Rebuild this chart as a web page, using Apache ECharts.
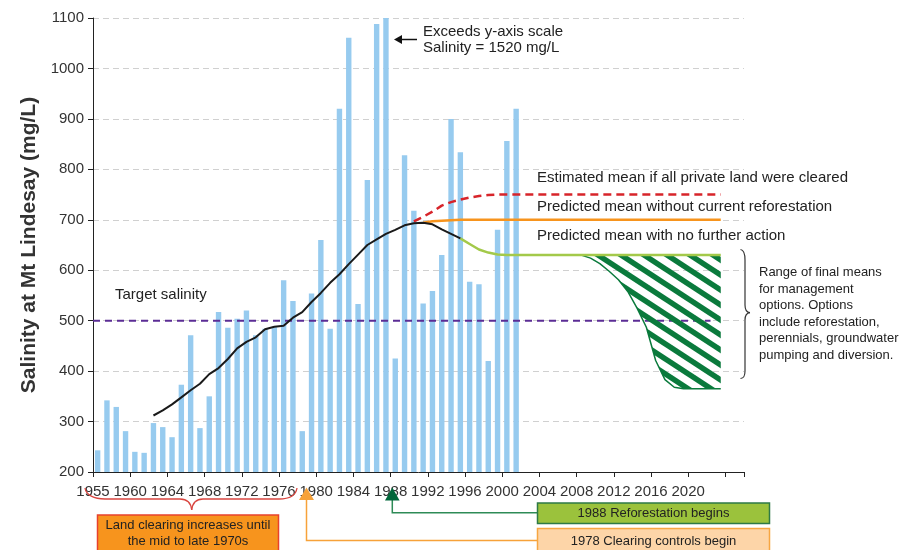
<!DOCTYPE html>
<html><head><meta charset="utf-8">
<script src="https://cdn.jsdelivr.net/npm/echarts@6/dist/echarts.min.js"></script>
<style>html,body{margin:0;padding:0;background:#fff}#c{width:924px;height:550px}</style>
</head><body><div id="c"></div>
<script>
// ---- data ----
const firstYear = 1955;
const categoryCount = 70; // 1955 .. 2024
const years = [];
for (let i = 0; i < categoryCount; i++) years.push(String(firstYear + i));

const tickLabels = ['1955','1960','1964','1968','1972','1976','1980','1984','1988','1992','1996','2000','2004','2008','2012','2016','2020'];

// annual salinity (mg/L), 1955 .. 2000
const salinity = [243,342,329,281,240,238,297,289,269,373,471,287,350,517,486,504,520,471,484,487,580,539,281,554,660,484,920,1061,533,779,1088,1520,425,828,718,534,559,630,900,834,577,572,420,680,856,920];

// observed/predicted mean (black), starting 1961
const meanStart = '1961';
const meanObserved = [312,322,334,348,362,375,394,406,424,445,458,467,483,488,490,506,517,537,555,575,592,612,631,650,661,672,680,689,693,694,691,681,672,663];

// estimated mean if all private land were cleared (red dashed), from 1989
const clearedStart = '1989';
const meanCleared = [697,706,716,728,735,740,744,747,749,750,750,750,750,750,750,750,750,750,750,750,750,750,750,750,750,750,750,750,750,750,750,750,750,750];

// predicted mean without current reforestation (orange), from 1990
const noReforStart = '1990';
const meanNoRefor = [694,697,698,699,700,700,700,700,700,700,700,700,700,700,700,700,700,700,700,700,700,700,700,700,700,700,700,700,700,700,700,700,700];

// predicted mean with no further action (green), from 1994
const noActionStart = '1994';
const meanNoAction = [663,652,641,635,631,630,630,630,630,630,630,630,630,630,630,630,630,630,630,630,630,630,630,630,630,630,630,630,630];

// range of final means for management options, from 2007
const rangeStart = '2007';
const rangeLower = [630,624,613,598,581,558,525,487,421,383,368,365,365,365,365,365];
const rangeUpper = [630,630,630,630,630,630,630,630,630,630,630,630,630,630,630,630];

const targetSalinity = 500;
const targetSpan = [0, 66.4];

// ---- helpers ----
function place(startYear, vals) {
  const out = new Array(categoryCount).fill(null);
  const s = years.indexOf(startYear);
  vals.forEach((v, i) => { out[s + i] = v; });
  return out;
}
function hatch() {
  const W = 23, H = 15;
  const c = document.createElement('canvas'); c.width = W; c.height = H;
  const g = c.getContext('2d'); g.strokeStyle = '#0A7A3C'; g.lineWidth = 5.5;
  for (let k = -2; k <= 2; k++) { g.beginPath(); g.moveTo(-W, -H + H * k); g.lineTo(2 * W, 2 * H + H * k); g.stroke(); }
  return c;
}

const FONT = '"Liberation Sans", Arial, sans-serif';
const chart = echarts.init(document.getElementById('c'), null, {renderer: 'canvas'});

const lowerFull = place(rangeStart, rangeLower);
const diffFull = place(rangeStart, rangeUpper.map((u, i) => u - rangeLower[i]));

function txt(x, y, text, size, opts) {
  return Object.assign({type: 'text', x: x, y: y, z: 100,
    style: Object.assign({text: text, font: size + 'px ' + FONT, fill: '#222', align: 'left', verticalAlign: 'middle'}, opts || {})});
}
function bz(x1, y1, cx1, cy1, cx2, cy2, x2, y2, color, w) {
  return {type: 'bezierCurve', z: 100, shape: {x1: x1, y1: y1, cpx1: cx1, cpy1: cy1, cpx2: cx2, cpy2: cy2, x2: x2, y2: y2},
    style: {stroke: color, lineWidth: w, fill: null}};
}
function ln(x1, y1, x2, y2, color, w) {
  return {type: 'line', z: 100, shape: {x1: x1, y1: y1, x2: x2, y2: y2}, style: {stroke: color, lineWidth: w}};
}

const option = {
  animation: false,
  textStyle: {fontFamily: FONT},
  grid: {left: 93, right: 180, top: 18, bottom: 78, containLabel: false},
  xAxis: [
    {type: 'category', data: years, boundaryGap: true,
      axisLine: {show: true, lineStyle: {color: '#222', width: 1}},
      axisTick: {show: false}, axisLabel: {show: false}, splitLine: {show: false}},
    {type: 'value', min: 0, max: categoryCount, interval: 4, position: 'bottom',
      axisLine: {show: false},
      axisTick: {show: true, length: 5, lineStyle: {color: '#222'}},
      axisLabel: {show: true, margin: 12, fontSize: 15, color: '#333', fontFamily: FONT,
        formatter: v => (v % 4 === 0 && tickLabels[v / 4]) ? tickLabels[v / 4] : ''},
      splitLine: {show: false}}
  ],
  yAxis: {
    type: 'value', min: 200, max: 1100, interval: 100,
    name: 'Salinity at Mt Lindesay (mg/L)', nameLocation: 'middle', nameGap: 43,
    nameTextStyle: {fontSize: 21, fontWeight: 'bold', color: '#333', fontFamily: FONT},
    axisLine: {show: true, lineStyle: {color: '#222', width: 1}},
    axisTick: {show: true, length: 5, lineStyle: {color: '#222'}},
    axisLabel: {fontSize: 15, color: '#333', margin: 9, fontFamily: FONT, formatter: v => String(v)},
    splitLine: {show: true, lineStyle: {color: '#d0d0d0', type: [6, 4], width: 1}}
  },
  series: [
    {type: 'bar', name: 'Salinity', data: salinity, barWidth: '58%', itemStyle: {color: '#97CBEF'}, clip: true, z: 1},
    {type: 'line', name: 'Target', xAxisIndex: 1, data: [[targetSpan[0], targetSalinity], [targetSpan[1], targetSalinity]],
      symbol: 'none', lineStyle: {color: '#5B2D95', width: 2, type: [7, 5]}, z: 3},
    {type: 'line', name: 'RangeLower', data: lowerFull, stack: 'range', symbol: 'none',
      lineStyle: {color: '#0A7A3C', width: 1.5}, z: 4},
    {type: 'line', name: 'RangeArea', data: diffFull, stack: 'range', symbol: 'none',
      lineStyle: {width: 0, opacity: 0}, areaStyle: {color: {image: hatch(), repeat: 'repeat'}, opacity: 1}, z: 4},
    {type: 'line', name: 'Cleared', data: place(clearedStart, meanCleared), symbol: 'none',
      lineStyle: {color: '#D7242A', width: 2.5, type: [8, 5]}, z: 5},
    {type: 'line', name: 'NoRefor', data: place(noReforStart, meanNoRefor), symbol: 'none',
      lineStyle: {color: '#F7941D', width: 2.5}, z: 5},
    {type: 'line', name: 'NoAction', data: place(noActionStart, meanNoAction), symbol: 'none',
      lineStyle: {color: '#A3C94A', width: 2.5}, z: 5},
    {type: 'line', name: 'Mean', data: place(meanStart, meanObserved), symbol: 'none',
      lineStyle: {color: '#1a1a1a', width: 2}, z: 6}
  ],
  graphic: [
    txt(115, 295, 'Target salinity', 15),
    txt(423, 40, 'Exceeds y-axis scale\nSalinity = 1520 mg/L', 15, {lineHeight: 16.5}),
    ln(417, 39.5, 400, 39.5, '#111', 1.5),
    {type: 'polygon', z: 100, shape: {points: [[394, 39.5], [402, 35], [402, 44]]}, style: {fill: '#111'}},
    txt(537, 178, 'Estimated mean if all private land were cleared', 15),
    txt(537, 207, 'Predicted mean without current reforestation', 15),
    txt(537, 236, 'Predicted mean with no further action', 15),
    txt(759, 314, 'Range of final means\nfor management\noptions. Options\ninclude reforestation,\nperennials, groundwater\npumping and diversion.', 13, {lineHeight: 16.6}),
    // right brace
    bz(740.5, 249.5, 744, 250, 745, 253, 745, 260, '#333', 1.2),
    ln(745, 260, 745, 305, '#333', 1.2),
    bz(745, 305, 745, 310, 747, 312.5, 750, 312.7, '#333', 1.2),
    bz(750, 312.7, 747, 313, 745, 315, 745, 320, '#333', 1.2),
    ln(745, 320, 745, 371, '#333', 1.2),
    bz(745, 371, 745, 376, 744, 378, 740.5, 378.5, '#333', 1.2),
    // bottom red brace
    bz(85, 488, 86, 495, 94, 499, 105, 499, '#D9453F', 1.3),
    ln(105, 499, 180, 499, '#D9453F', 1.3),
    bz(180, 499, 187, 499, 191, 503, 191.7, 510, '#D9453F', 1.3),
    bz(191.7, 510, 192.5, 503, 196, 499, 203, 499, '#D9453F', 1.3),
    ln(203, 499, 279, 499, '#D9453F', 1.3),
    bz(279, 499, 290, 499, 296, 495, 297, 488, '#D9453F', 1.3),
    // orange box
    {type: 'rect', z: 100, shape: {x: 97.5, y: 515, width: 181, height: 45}, style: {fill: '#F7941D', stroke: '#E8412C', lineWidth: 1.5}},
    txt(188, 533, 'Land clearing increases until\nthe mid to late 1970s', 13, {align: 'center', lineHeight: 16}),
    // arrows
    {type: 'polyline', z: 100, shape: {points: [[537, 540.5], [306.5, 540.5], [306.5, 498]]}, style: {stroke: '#F7A23A', lineWidth: 1.5, fill: null}},
    {type: 'polygon', z: 100, shape: {points: [[306.5, 487.5], [299, 500], [314, 500]]}, style: {fill: '#F7A23A'}},
    {type: 'polyline', z: 100, shape: {points: [[537, 512.7], [392.3, 512.7], [392.3, 499]]}, style: {stroke: '#2E8B57', lineWidth: 1.5, fill: null}},
    {type: 'polygon', z: 100, shape: {points: [[392.3, 487.5], [385, 500.5], [399.6, 500.5]]}, style: {fill: '#00663A'}},
    // green box
    {type: 'rect', z: 100, shape: {x: 537.5, y: 503, width: 232, height: 20.5}, style: {fill: '#9BC23C', stroke: '#2E7A45', lineWidth: 1.5}},
    txt(653.5, 513.5, '1988 Reforestation begins', 13, {align: 'center'}),
    // peach box
    {type: 'rect', z: 100, shape: {x: 537.5, y: 528.5, width: 232, height: 30}, style: {fill: '#FDD5A8', stroke: '#F7A642', lineWidth: 1.5}},
    txt(653.5, 541, '1978 Clearing controls begin', 13, {align: 'center'})
  ]
};
chart.setOption(option);
</script></body></html>
